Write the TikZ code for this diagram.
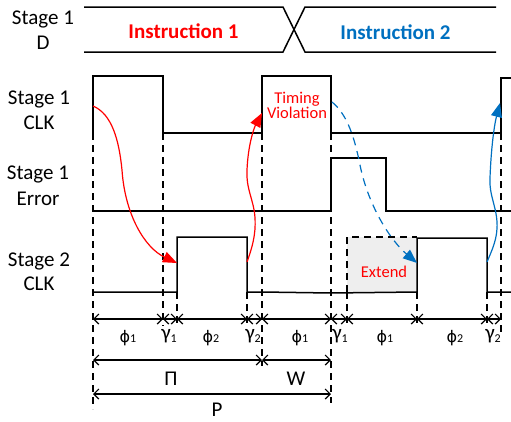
\documentclass[tikz,border=0pt]{standalone}
\usepackage{fontspec}
\setmainfont{Carlito}
\newfontfamily\phifont{DejaVu Sans}
\usetikzlibrary{arrows.meta}
\definecolor{myred}{RGB}{255,0,0}
\definecolor{myblue}{RGB}{0,112,192}
\definecolor{boxgray}{RGB}{238,238,238}
\newcommand\lsub[1]{{\fontsize{12}{12}\selectfont #1}}
\newcommand\gsub[1]{\raisebox{-3pt}{\fontsize{12}{12}\selectfont #1}}
\newcommand\myphi{{\phifont\fontsize{16}{18}\selectfont ϕ}}
\begin{document}
\begin{tikzpicture}[x=1pt,y=-1pt,
  sig/.style={line width=1.5pt, line join=miter},
  vdash/.style={line width=1.2pt, dash pattern=on 7pt off 5pt},
  dim/.style={line width=1.2pt, {Straight Barb[length=5pt,width=10pt]}-{Straight Barb[length=5pt,width=10pt]}},
  lab/.style={anchor=base, inner sep=0pt, font=\fontsize{21}{24}\selectfont},
  note/.style={anchor=base, inner sep=0pt, text=myred, font=\fontsize{16.5}{18}\selectfont},
  greek/.style={anchor=base, inner sep=0pt, font=\fontsize{21}{22}\selectfont},
  redarr/.style={myred, line width=1.2pt, -{Triangle[length=14pt,width=11pt]}},
  bluearr/.style={myblue, line width=1.2pt, -{Triangle[length=14pt,width=11pt]}},
  bluedash/.style={bluearr, dash pattern=on 8pt off 6pt}]
\useasboundingbox (0,0) rectangle (511,421);

% left labels
\node[lab] (l1a) at (43,24) {Stage 1};
\node[lab] (l1b) at (43,49) {D};
\node[lab] (l2a) at (39,104) {Stage 1};
\node[lab] (l2b) at (39,129) {CLK};
\node[lab] (l3a) at (38,179) {Stage 1};
\node[lab] (l3b) at (38,205) {Error};
\node[lab] (l4a) at (39,266) {Stage 2};
\node[lab] (l4b) at (39,290) {CLK};

% Stage 1 D bus
\draw[sig] (84,7) -- (283,7) -- (305,52) -- (496,52);
\draw[sig] (84,52) -- (283,52) -- (305,7) -- (496,7);
\node[lab, text=myred, font=\fontsize{21}{24}\selectfont\bfseries] (ins1) at (183.5,38) {Instruction 1};
\node[lab, text=myblue, font=\fontsize{21}{24}\selectfont\bfseries] (ins2) at (395.5,39) {Instruction 2};

% Extend box
\fill[boxgray] (347,237) rectangle (417,292);
\draw[vdash] (347,292) -- (347,237) -- (417,237);

% dashed verticals
\draw[vdash] (93,133) -- (93,409);
\draw[vdash] (163,133) -- (163,326);
\draw[vdash] (177,292) -- (177,326);
\draw[vdash] (247,292) -- (247,326);
\draw[vdash] (262,133) -- (262,366);
\draw[vdash] (331,133) -- (331,403);
\draw[vdash] (347,292) -- (347,326);
\draw[vdash] (417,292) -- (417,326);
\draw[vdash] (487,292) -- (487,326);
\draw[vdash] (501,133) -- (501,336);

% signals
\draw[sig] (93,133) -- (93,76) -- (163,76) -- (163,133) -- (262,133) -- (262,76) -- (331,76) -- (331,133) -- (501,133) -- (501,78) -- (511,78);
\draw[sig] (93,211) -- (331,211) -- (331,158) -- (386,158) -- (386,211) -- (511,211);
\draw[sig] (93,292) -- (177,292) -- (177,237) -- (247,237) -- (247,292) -- (262,292) -- (331,293) -- (417,292) -- (417,238) -- (487,238) -- (487,292) -- (511,292);

\node[note] (tv1) at (297,103) {Timing};
\node[note] (tv2) at (297,118) {Violation};
\node[note] (ext) at (384,277) {Extend};

% causal arrows
\coordinate (r1s) at (93,106);
\coordinate (r1e) at (177,263);
\coordinate (r2s) at (247,262);
\coordinate (r2e) at (262,113);
\coordinate (b1s) at (332,102);
\coordinate (b1e) at (417,263);
\coordinate (b2s) at (487,262);
\coordinate (b2e) at (500,103);
\draw[redarr] (r1s) .. controls (112,114) and (119,140) .. (122,170) .. controls (125,215) and (145,248) .. (r1e);
\draw[redarr] (r2s) .. controls (252,248) and (256,235) .. (255,218) .. controls (254,200) and (246,190) .. (247,170) .. controls (248,145) and (254,128) .. (r2e);
\draw[bluedash] (b1s) .. controls (348,115) and (355,140) .. (360,165) .. controls (368,205) and (390,240) .. (b1e);
\draw[bluearr] (b2s) .. controls (492,250) and (498,238) .. (497,222) .. controls (496,205) and (489,195) .. (490,178) .. controls (491,150) and (494,126) .. (b2e);

% dimension rows
\foreach \n/\x in {a/93,b/163,c/177,d/247,e/262,f/331,g/347,h/417,i/487,j/501}{
  \coordinate (t\n) at (\x,319);
}
\draw[dim] (ta) -- (tb);
\draw[dim] (tb) -- (tc);
\draw[dim] (tc) -- (td);
\draw[dim] (td) -- (te);
\draw[dim] (te) -- (tf);
\draw[dim] (tf) -- (tg);
\draw[dim] (tg) -- (th);
\draw[dim] (th) -- (ti);
\draw[dim] (ti) -- (tj);
\coordinate (ua) at (93,360);
\coordinate (ue) at (262,360);
\coordinate (uf) at (331,360);
\coordinate (va) at (93,394);
\coordinate (vf) at (331,394);
\draw[dim] (ua) -- (ue);
\draw[dim] (ue) -- (uf);
\draw[dim] (va) -- (vf);

% phase labels
\node[greek] (g1) at (128,342) {\myphi\lsub{1}};
\node[greek] (g2) at (169,339) {γ\gsub{1}};
\node[greek] (g3) at (211,342) {\myphi\lsub{2}};
\node[greek] (g4) at (253,339) {γ\gsub{2}};
\node[greek] (g5) at (300,342) {\myphi\lsub{1}};
\node[greek] (g6) at (340,339) {γ\gsub{1}};
\node[greek] (g7) at (385,342) {\myphi\lsub{1}};
\node[greek] (g8) at (455,342) {\myphi\lsub{2}};
\node[greek] (g9) at (493,339) {γ\gsub{2}};
\node[lab] (pi) at (171,385) {Π};
\node[lab] (w) at (296,385) {W};
\node[lab] (p) at (217,416) {P};
\end{tikzpicture}
\end{document}
